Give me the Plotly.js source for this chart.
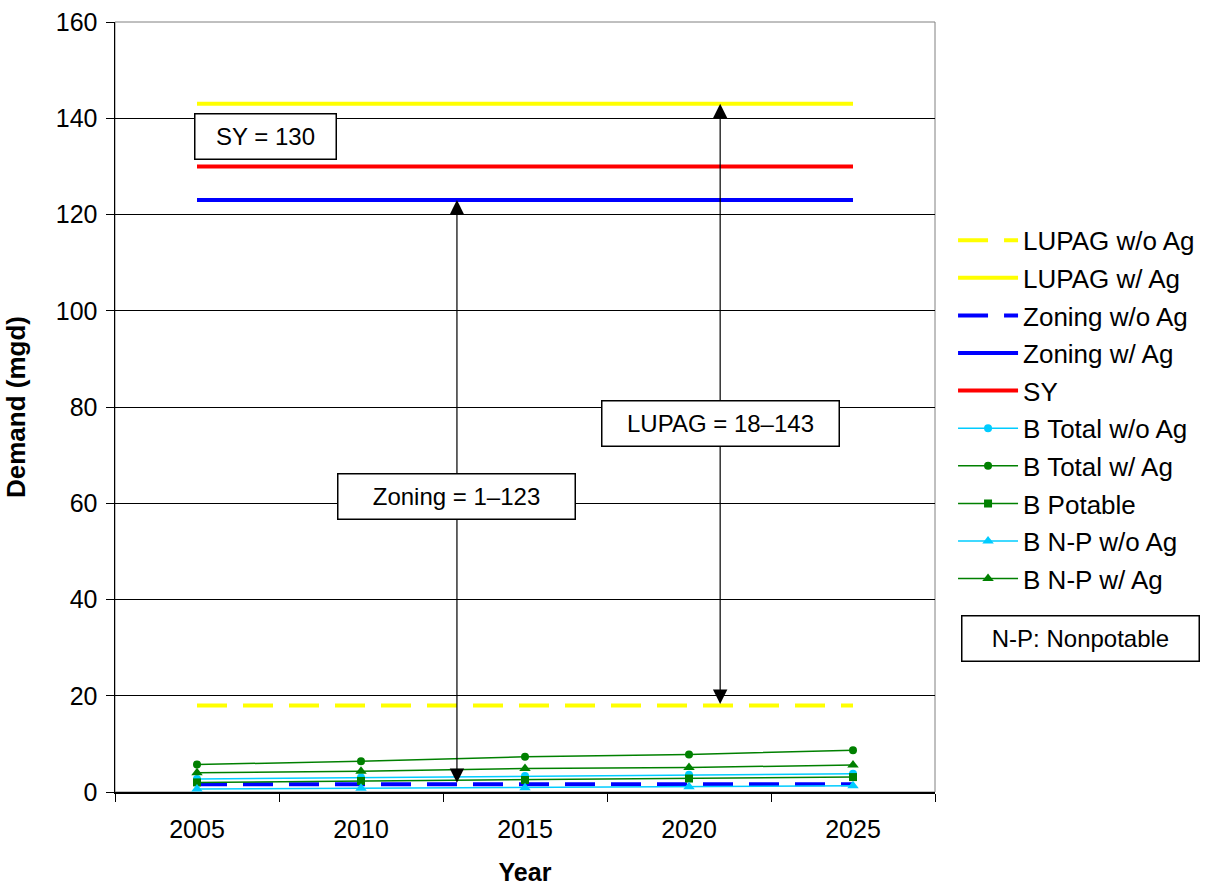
<!DOCTYPE html>
<html>
<head>
<meta charset="utf-8">
<script src="https://cdn.plot.ly/plotly-3.0.1.min.js"></script>
<style>
  html, body { margin: 0; padding: 0; background: #ffffff; }
  #chart { width: 1214px; height: 890px; }
</style>
</head>
<body>
<div id="chart"></div>
<script>
// Projected water demand (mgd) by year
const years = ['2005', '2010', '2015', '2020', '2025'];

const lupagWithoutAg = [18, 18, 18, 18, 18];
const lupagWithAg    = [143, 143, 143, 143, 143];
const zoningWithoutAg = [1.6, 1.6, 1.6, 1.6, 1.6];
const zoningWithAg   = [123, 123, 123, 123, 123];
const safeYield      = [130, 130, 130, 130, 130];

const bTotalWithoutAg = [2.7, 3.0, 3.3, 3.6, 3.8];
const bTotalWithAg    = [5.7, 6.4, 7.3, 7.8, 8.7];
const bPotable        = [2.0, 2.3, 2.5, 2.8, 3.1];
const bNpWithoutAg    = [0.6, 0.8, 0.9, 1.1, 1.3];
const bNpWithAg       = [4.0, 4.3, 4.9, 5.1, 5.6];

// Callout texts
const syLabel     = 'SY = 130';
const zoningLabel = 'Zoning = 1–123';
const lupagLabel  = 'LUPAG = 18–143';
const noteLabel   = 'N-P: Nonpotable';

const YELLOW = '#FFFF00', BLUE = '#0000FF', RED = '#FF0000';
const CYAN = '#00CCFF', GREEN = '#008000';
const FONT = 'Liberation Sans, Arial, sans-serif';

function flat(name, y, color, dash) {
  return {
    name: name, x: years, y: y, type: 'scatter', mode: 'lines',
    legendgroup: name,
    line: { color: color, width: 4, dash: dash || 'solid' },
    hoverinfo: 'skip'
  };
}
function marked(name, y, color, symbol, size) {
  return {
    name: name, x: years, y: y, type: 'scatter', mode: 'lines+markers',
    legendgroup: name,
    line: { color: color, width: 1.5 },
    marker: { color: color, symbol: symbol, size: size },
    hoverinfo: 'skip'
  };
}

const traces = [
  flat('LUPAG w/o Ag', lupagWithoutAg, YELLOW, '30px,16px'),
  flat('LUPAG w/ Ag', lupagWithAg, YELLOW),
  flat('Zoning w/o Ag', zoningWithoutAg, BLUE, '30px,16px'),
  flat('Zoning w/ Ag', zoningWithAg, BLUE),
  flat('SY', safeYield, RED),
  marked('B Total w/o Ag', bTotalWithoutAg, CYAN, 'circle', 8),
  marked('B Total w/ Ag', bTotalWithAg, GREEN, 'circle', 8),
  marked('B Potable', bPotable, GREEN, 'square', 8),
  marked('B N-P w/o Ag', bNpWithoutAg, CYAN, 'triangle-up', 10),
  marked('B N-P w/ Ag', bNpWithAg, GREEN, 'triangle-up', 10)
];

// Double-headed arrows span each scenario's range (low line to high line)
const zoningX = 1.585;
const lupagX = 3.19;

function rangeArrow(xPos, low, high) {
  return {
    x: xPos, y: high, ax: xPos, ay: low,
    xref: 'x', yref: 'y', axref: 'x', ayref: 'y',
    text: '', showarrow: true,
    arrowside: 'end+start',
    arrowhead: 2, startarrowhead: 2,
    arrowsize: 2.4, startarrowsize: 2.4,
    arrowwidth: 1.2, arrowcolor: '#000000',
    standoff: 0, startstandoff: 0
  };
}
function box(text, x, y, w, xref, yref) {
  return {
    x: x, y: y, xref: xref || 'x', yref: yref || 'y',
    text: text, showarrow: false,
    font: { family: FONT, size: 24, color: '#000000' },
    bgcolor: '#ffffff', bordercolor: '#000000', borderwidth: 1.5,
    borderpad: 0, width: w, height: 44,
    xanchor: 'center', yanchor: 'middle'
  };
}

const layout = {
  width: 1214, height: 890,
  margin: { l: 115, r: 279, t: 22, b: 98 },
  paper_bgcolor: '#ffffff', plot_bgcolor: '#ffffff',
  font: { family: FONT, size: 25, color: '#000000' },
  showlegend: true,
  legend: {
    x: 1.022, xanchor: 'left', y: 0.747, yanchor: 'top',
    font: { family: FONT, size: 26, color: '#000000' },
    itemwidth: 60, tracegroupgap: 0.8,
    bgcolor: 'rgba(0,0,0,0)', borderwidth: 0
  },
  xaxis: {
    type: 'category', categoryorder: 'array', categoryarray: years,
    range: [-0.5, 4.5], tickson: 'boundaries',
    ticks: 'outside', ticklen: 8, tickcolor: '#000000', tickwidth: 1,
    showgrid: false, zeroline: false,
    showline: true, linecolor: '#000000', linewidth: 1.5,
    ticklabelstandoff: 14,
    tickfont: { family: FONT, size: 25 },
    title: { text: '<b>Year</b>', font: { family: FONT, size: 25 }, standoff: 22 }
  },
  yaxis: {
    range: [0, 160], dtick: 20, tick0: 0,
    ticks: 'outside', ticklen: 8, tickcolor: '#000000', tickwidth: 1,
    showgrid: true, gridcolor: '#000000', gridwidth: 1,
    zeroline: false,
    showline: true, linecolor: '#000000', linewidth: 1.5,
    ticklabelstandoff: 3,
    tickfont: { family: FONT, size: 25 },
    title: { text: '<b>Demand (mgd)</b>', font: { family: FONT, size: 26 }, standoff: 22 }
  },
  shapes: [{
    type: 'rect', xref: 'paper', yref: 'paper', x0: 0, x1: 1, y0: 0, y1: 1,
    line: { color: '#808080', width: 1 }, layer: 'below'
  }],
  annotations: [
    rangeArrow(zoningX, zoningWithoutAg[0], zoningWithAg[0]),
    rangeArrow(lupagX, lupagWithoutAg[0], lupagWithAg[0]),
    box(syLabel, 0.415, 136.3, 140),
    box(zoningLabel, zoningX, 61.5, 236),
    box(lupagLabel, lupagX, 76.5, 236),
    box(noteLabel, 1.177, 0.199, 236, 'paper', 'paper')
  ]
};

Plotly.newPlot('chart', traces, layout, { displayModeBar: false, staticPlot: true });
</script>
</body>
</html>
